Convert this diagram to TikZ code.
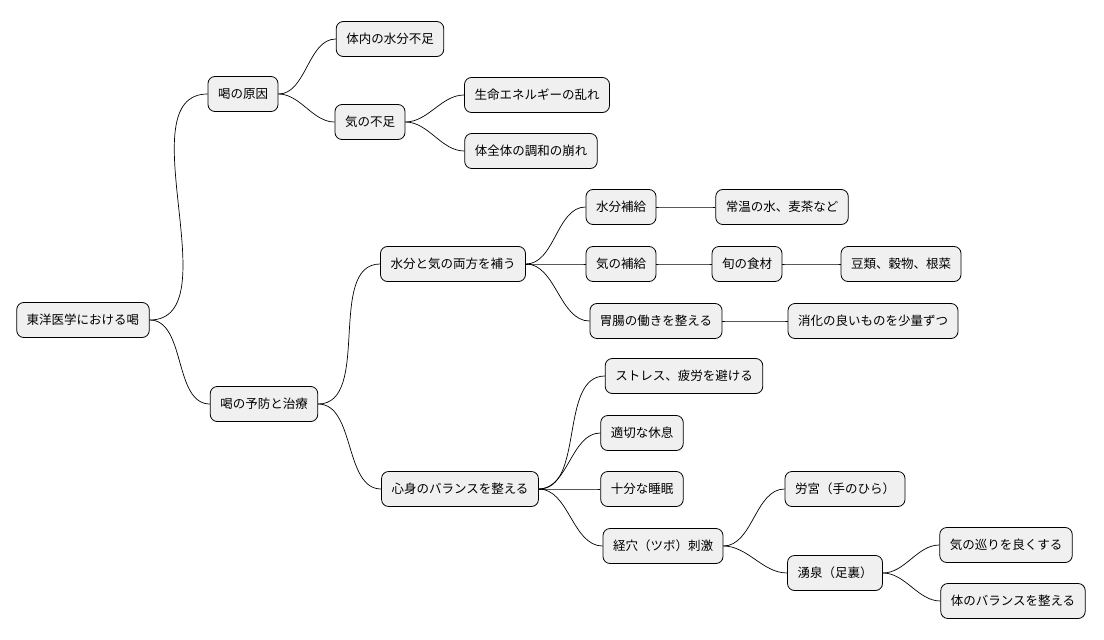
\documentclass[tikz,border=0pt]{standalone}
\usepackage{fontspec}
\newfontfamily\jpfont{Noto Sans CJK JP}
\begin{document}
\begin{tikzpicture}[x=1pt,y=-1pt,
  topic/.style={draw=black,fill=black!6,rounded corners=7pt,line width=0.8pt,
    minimum height=35pt,inner xsep=10pt,font=\jpfont\fontsize{12.5}{14}\selectfont},
  branch/.style={line width=0.7pt,out=0,in=180,looseness=0.9}]
\useasboundingbox (0,0) rectangle (1104,640);
% level 0 and 1
\node[topic] (root) at (83,320) {東洋医学における喝};
\node[topic] (cause) at (243,94) {喝の原因};
\node[topic] (care) at (264,404) {喝の予防と治療};
% causes
\node[topic] (water) at (390,39) {体内の水分不足};
\node[topic] (lack) at (370,122) {気の不足};
\node[topic] (energy) at (537,95) {生命エネルギーの乱れ};
\node[topic] (harmony) at (531,151) {体全体の調和の崩れ};
% prevention
\node[topic] (both) at (453,264) {水分と気の両方を補う};
\node[topic] (hydrate) at (621,207) {水分補給};
\node[topic] (tea) at (782,207) {常温の水、麦茶など};
\node[topic] (qi) at (621,264) {気の補給};
\node[topic] (season) at (747,264) {旬の食材};
\node[topic] (beans) at (901,264) {豆類、穀物、根菜};
\node[topic] (gut) at (656,321) {胃腸の働きを整える};
\node[topic] (light) at (873,321) {消化の良いものを少量ずつ};
\node[topic] (mind) at (460,489) {心身のバランスを整える};
\node[topic] (stress) at (684,376) {ストレス、疲労を避ける};
\node[topic] (rest) at (642,433) {適切な休息};
\node[topic] (sleep) at (642,489) {十分な睡眠};
\node[topic] (tsubo) at (663,546) {経穴（ツボ）刺激};
\node[topic] (palm) at (845,489) {労宮（手のひら）};
\node[topic] (sole) at (835,573) {湧泉（足裏）};
\node[topic] (flow) at (1006,545) {気の巡りを良くする};
\node[topic] (body) at (1013,601) {体のバランスを整える};
% connectors
\foreach \a/\b in {root/cause,root/care,cause/water,cause/lack,lack/energy,lack/harmony,
  care/both,care/mind,both/hydrate,both/qi,both/gut,hydrate/tea,qi/season,season/beans,
  gut/light,mind/stress,mind/rest,mind/sleep,mind/tsubo,tsubo/palm,tsubo/sole,
  sole/flow,sole/body}
  \draw[branch] (\a.east) to (\b.west);
\end{tikzpicture}
\end{document}
